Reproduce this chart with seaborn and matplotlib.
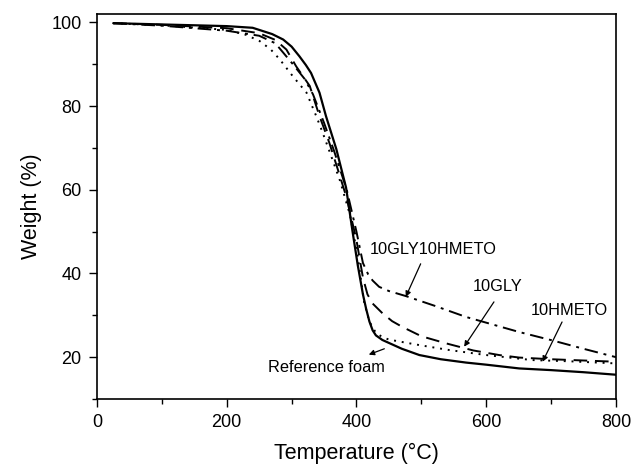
import numpy as np
import pandas as pd
import matplotlib
matplotlib.use("Agg")
import matplotlib.pyplot as plt
import seaborn as sns
from matplotlib.ticker import MultipleLocator

# Reference foam (solid)
ref_T = [25, 100, 200, 240, 256, 270, 287, 300, 312, 322, 330, 343, 353, 369, 384, 394, 402, 410, 415, 420, 425, 430, 440, 450, 470, 497, 530, 569, 600, 651, 700, 750, 800]
ref_W = [99.8, 99.5, 99.1, 98.7, 97.9, 97.2, 95.9, 94.2, 91.9, 89.8, 87.9, 83.2, 77.6, 69.7, 60.5, 50, 42, 35, 31.5, 28.5, 26.4, 25.2, 24.1, 23.4, 22, 20.5, 19.5, 18.7, 18.2, 17.3, 16.9, 16.4, 15.8]

# 10HMETO (dotted)
hmeto_T = [25, 100, 200, 230, 251, 268, 282, 302, 323, 338, 348, 360, 375, 390, 402, 412, 420, 430, 440, 450, 471, 500, 543, 600, 671, 730, 800]
hmeto_W = [99.8, 99.3, 98.2, 97, 95.5, 93.5, 91.1, 87.1, 83.2, 77.6, 73.6, 68.5, 62, 54, 44, 33, 28.5, 25.8, 24.8, 24.2, 23.6, 22.8, 21.7, 20.5, 19.3, 19, 18.5]

# 10GLY (dashed)
gly_T = [25, 100, 200, 250, 275, 292, 307, 328, 343, 358, 372, 385, 400, 410, 417, 425, 440, 455, 471, 500, 538, 580, 620, 651, 700, 800]
gly_W = [99.8, 99.4, 98.6, 97.4, 95.8, 93.5, 89.5, 84.8, 77.6, 71.3, 64.5, 58, 48, 39, 35, 32.8, 30.5, 28.6, 27.2, 25, 23.3, 21.6, 20.5, 19.9, 19.5, 18.9]

# 10GLY10HMETO (dash-dot)
mix_T = [25, 100, 200, 250, 275, 302, 320, 333, 350, 365, 385, 400, 410, 418, 425, 435, 450, 476, 520, 569, 651, 702, 750, 800]
mix_W = [99.8, 99.2, 98.0, 96.8, 95.0, 90, 86.5, 82.8, 76, 69.5, 60, 50, 42.5, 39.8, 38.3, 36.8, 35.8, 34.6, 32.3, 29.6, 26, 24, 22, 20]

series = ["Reference foam", "10HMETO", "10GLY", "10GLY10HMETO"]
frames = []
for name, T, W in zip(series, [ref_T, hmeto_T, gly_T, mix_T], [ref_W, hmeto_W, gly_W, mix_W]):
    frames.append(pd.DataFrame({"T": T, "W": W, "sample": name}))
df = pd.concat(frames, ignore_index=True)

sns.set_theme(style="ticks")
plt.rcParams['font.family'] = ['Liberation Sans', 'DejaVu Sans']
plt.rcParams['text.color'] = 'black'
plt.rcParams['axes.labelcolor'] = 'black'

fig = plt.figure(figsize=(6.32, 4.66), dpi=100)
ax = fig.add_axes([0.1535, 0.1438, 0.8210, 0.8262])

dashes = {"Reference foam": "", "10HMETO": (1, 3), "10GLY": (7, 4), "10GLY10HMETO": (7, 3, 1.5, 3)}
palette = {s: "black" for s in series}
sns.lineplot(data=df, x="T", y="W", hue="sample", style="sample", dashes=dashes,
             palette=palette, ax=ax, legend=False, sort=True, estimator=None, linewidth=1.4)
for ln in ax.get_lines():
    if ln.get_linestyle() == '-':
        ln.set_linewidth(1.6)

ax.set_xlim(0, 800)
ax.set_ylim(10, 102)
ax.xaxis.set_major_locator(MultipleLocator(200))
ax.xaxis.set_minor_locator(MultipleLocator(100))
ax.yaxis.set_major_locator(MultipleLocator(20))
ax.yaxis.set_minor_locator(MultipleLocator(10))
ax.set_yticks([20, 40, 60, 80, 100])
ax.tick_params(which='major', direction='out', length=6, width=1, labelsize=13, colors='black', pad=5)
ax.tick_params(which='minor', direction='out', length=3.5, width=1, colors='black')
for sp in ax.spines.values():
    sp.set_linewidth(1.2)
    sp.set_color('black')
ax.set_xlabel("Temperature (°C)", fontsize=15.5, labelpad=8, color='black')
ax.set_ylabel("Weight (%)", fontsize=15.5, labelpad=7, color='black')

fs = 11.8
arrowprops = dict(arrowstyle="-|>", color="black", lw=0.9, mutation_scale=8, shrinkA=0, shrinkB=0)
ax.annotate("", xy=(476, 34.4), xytext=(499, 42.3), arrowprops=arrowprops)
ax.text(518, 45.7, "10GLY10HMETO", ha="center", va="center", fontsize=fs, color='black')
ax.annotate("", xy=(566, 22.5), xytext=(612, 33.2), arrowprops=arrowprops)
ax.text(618, 36.8, "10GLY", ha="center", va="center", fontsize=fs, color='black')
ax.annotate("", xy=(687, 18.9), xytext=(717, 28.4), arrowprops=arrowprops)
ax.text(728, 31.2, "10HMETO", ha="center", va="center", fontsize=fs, color='black')
ax.annotate("", xy=(419, 20.6), xytext=(443, 22.0), arrowprops=arrowprops)
ax.text(353, 17.5, "Reference foam", ha="center", va="center", fontsize=fs, color='black')

fig.savefig("out.png", dpi=100)
